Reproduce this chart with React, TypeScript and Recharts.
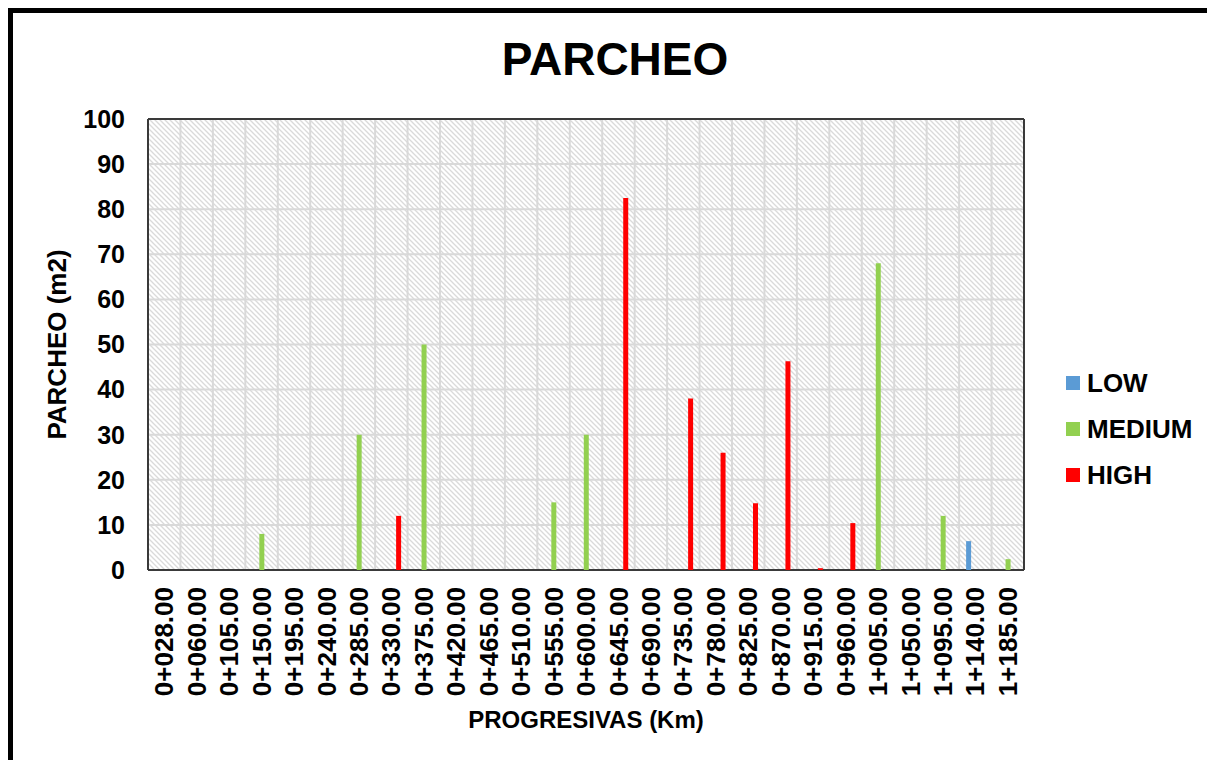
// PARCHEO bar chart (LOW / MEDIUM / HIGH per progresiva)

import React from 'react'
import { BarChart, Bar, XAxis, YAxis, CartesianGrid, Legend, Label } from 'recharts'

const progresivas = [
  '0+028.00', '0+060.00', '0+105.00', '0+150.00', '0+195.00', '0+240.00', '0+285.00',
  '0+330.00', '0+375.00', '0+420.00', '0+465.00', '0+510.00', '0+555.00', '0+600.00',
  '0+645.00', '0+690.00', '0+735.00', '0+780.00', '0+825.00', '0+870.00', '0+915.00',
  '0+960.00', '1+005.00', '1+050.00', '1+095.00', '1+140.00', '1+185.00',
]

const lowValues = [0, 0, 0, 0, 0, 0, 0, 0, 0, 0, 0, 0, 0, 0, 0, 0, 0, 0, 0, 0, 0, 0, 0, 0, 0, 6.4, 0]
const mediumValues = [0, 0, 0, 8, 0, 0, 30, 0, 50, 0, 0, 0, 15, 30, 0, 0, 0, 0, 0, 0, 0, 0, 68, 0, 12, 0, 2.4]
const highValues = [0, 0, 0, 0, 0, 0, 0, 12, 0, 0, 0, 0, 0, 0, 82.5, 0, 38, 26, 14.8, 46.3, 0.4, 10.4, 0, 0, 0, 0, 0]

const seriesOrder = ['LOW', 'MEDIUM', 'HIGH']
const yTicks = [0, 10, 20, 30, 40, 50, 60, 70, 80, 90, 100]

const data = progresivas.map((p, i) => ({
  progresiva: p,
  LOW: lowValues[i],
  MEDIUM: mediumValues[i],
  HIGH: highValues[i],
}))

const FONT = '"Liberation Sans", Arial, Helvetica, sans-serif'

const XTick = ({ x, y, payload }: any) => (
  <text
    x={x}
    y={y}
    dy="0.35em"
    transform={`rotate(-90, ${x}, ${y})`}
    textAnchor="end"
    fontFamily={FONT}
    fontWeight="bold"
    fontSize={26}
    fill="#000"
  >
    {payload.value}
  </text>
)

const YLabel = ({ viewBox }: any) => {
  const x = viewBox.x + 24
  const y = viewBox.y + viewBox.height / 2
  return (
    <text
      x={x}
      y={y}
      dy="0.35em"
      transform={`rotate(-90, ${x}, ${y})`}
      textAnchor="middle"
      fontFamily={FONT}
      fontWeight="bold"
      fontSize={26}
      fill="#000"
    >
      PARCHEO (m2)
    </text>
  )
}

const LegendContent = ({ payload }: any) => {
  const items = [...(payload || [])].sort(
    (a: any, b: any) => seriesOrder.indexOf(a.value) - seriesOrder.indexOf(b.value)
  )
  return (
    <div>
      {items.map((entry: any) => (
        <div key={entry.value} style={{ display: 'flex', alignItems: 'center', height: 46 }}>
          <span style={{ display: 'inline-block', width: 14, height: 14, background: entry.color, marginRight: 7 }} />
          <span style={{ fontFamily: FONT, fontWeight: 'bold', fontSize: 26, color: '#000', lineHeight: '26px' }}>
            {entry.value}
          </span>
        </div>
      ))}
    </div>
  )
}

export default function App() {
  const n = progresivas.length
  return (
    <div
      style={{
        position: 'relative',
        width: 1207,
        height: 752,
        borderTop: '5px solid #000',
        borderLeft: '5px solid #000',
        boxSizing: 'border-box',
        overflow: 'hidden',
        background: '#fff',
      }}
    >
      <div
        style={{
          position: 'absolute',
          left: 0,
          top: 23,
          width: 1204,
          textAlign: 'center',
          fontFamily: FONT,
          fontWeight: 'bold',
          fontSize: 46,
          lineHeight: '46px',
          color: '#000',
        }}
      >
        PARCHEO
      </div>
      <BarChart
        width={1202}
        height={747}
        data={data}
        margin={{ top: 106, right: 191, bottom: 20, left: 20 }}
        barSize={5}
        barGap={2}
      >
        <defs>
          <pattern id="hatch" width="5" height="5" patternUnits="userSpaceOnUse">
            <rect width="5" height="5" fill="#fff" />
            <path d="M-1,-1 L6,6 M-1,4 L1,6 M4,-1 L6,1" stroke="#dadada" strokeWidth={1.3} />
          </pattern>
        </defs>
        <CartesianGrid
          fill="url(#hatch)"
          fillOpacity={1}
          stroke="#d9d9d9"
          strokeWidth={2}
          verticalCoordinatesGenerator={({ offset }: any) =>
            Array.from({ length: n + 1 }, (_, i) => offset.left + (i * offset.width) / n)
          }
        />
        <XAxis
          dataKey="progresiva"
          interval={0}
          height={170}
          axisLine={false}
          tickLine={false}
          tickSize={0}
          tickMargin={17}
          tick={<XTick />}
        >
          <Label
            value="PROGRESIVAS (Km)"
            position="insideBottom"
            offset={12}
            style={{ fontFamily: FONT, fontWeight: 'bold', fontSize: 24, fill: '#000' }}
          />
        </XAxis>
        <YAxis
          width={115}
          domain={[0, 100]}
          ticks={yTicks}
          interval={0}
          axisLine={false}
          tickLine={false}
          tickSize={0}
          tickMargin={23}
          tick={{ fontFamily: FONT, fontWeight: 'bold', fontSize: 25, fill: '#000' }}
          label={<YLabel />}
        />
        <Legend
          layout="horizontal"
          verticalAlign="middle"
          align="center"
          wrapperStyle={{ left: 1053, top: 347, width: 'auto', height: 'auto' }}
          content={<LegendContent />}
        />
        <Bar dataKey="LOW" name="LOW" fill="#5B9BD5" isAnimationActive={false} />
        <Bar dataKey="MEDIUM" name="MEDIUM" fill="#92D050" isAnimationActive={false} />
        <Bar dataKey="HIGH" name="HIGH" fill="#FF0000" isAnimationActive={false} />
        <CartesianGrid
          stroke="#3a3a3a"
          strokeWidth={2}
          horizontalCoordinatesGenerator={({ offset }: any) => [offset.top, offset.top + offset.height]}
          verticalCoordinatesGenerator={({ offset }: any) => [offset.left, offset.left + offset.width]}
        />
      </BarChart>
    </div>
  )
}
